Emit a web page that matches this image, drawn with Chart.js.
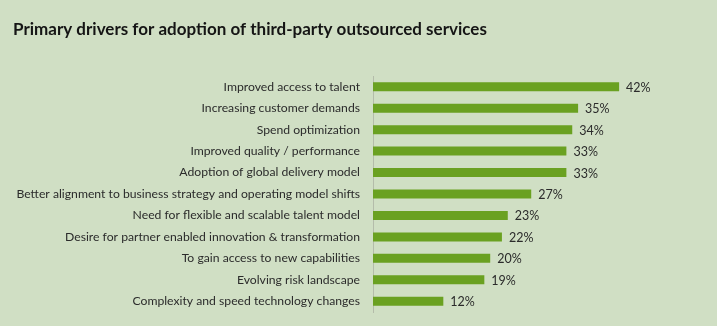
<!DOCTYPE html>
<html>
<head>
<meta charset="utf-8">
<script src="https://cdn.jsdelivr.net/npm/chart.js@4"></script>
<style>
  html, body { margin: 0; padding: 0; background: #d0dfc4; }
  #wrap { width: 717px; height: 326px; position: relative; }
</style>
</head>
<body>
<div id="wrap"><canvas id="driversChart"></canvas></div>
<script>
  // survey answers, top to bottom
  var DRIVERS = [
    "Improved access to talent",
    "Increasing customer demands",
    "Spend optimization",
    "Improved quality / performance",
    "Adoption of global delivery model",
    "Better alignment to business strategy and operating model shifts",
    "Need for flexible and scalable talent model",
    "Desire for partner enabled innovation & transformation",
    "To gain access to new capabilities",
    "Evolving risk landscape",
    "Complexity and speed technology changes"
  ];
  var SHARES = [42, 35, 34, 33, 33, 27, 23, 22, 20, 19, 12];

  var BAR_GREEN = "#6aa121";
  var TEXT_DARK = "#2b2b2b";

  // percent label at the end of each bar
  var barValueLabels = {
    id: "barValueLabels",
    afterDatasetsDraw: function (chart) {
      var ctx = chart.ctx;
      var meta = chart.getDatasetMeta(0);
      ctx.save();
      ctx.font = "12.5px Lato";
      ctx.fillStyle = TEXT_DARK;
      ctx.textAlign = "left";
      ctx.textBaseline = "middle";
      meta.data.forEach(function (bar, i) {
        ctx.fillText(SHARES[i] + "%", bar.x + 7, bar.y + 1);
      });
      ctx.restore();
    }
  };

  var ctx = document.getElementById("driversChart").getContext("2d");
  new Chart(ctx, {
    type: "bar",
    data: {
      labels: DRIVERS,
      datasets: [{
        data: SHARES,
        backgroundColor: BAR_GREEN,
        categoryPercentage: 1,
        barPercentage: 0.42
      }]
    },
    plugins: [barValueLabels],
    options: {
      indexAxis: "y",
      responsive: true,
      maintainAspectRatio: false,
      animation: false,
      layout: { padding: { top: 0, right: 51, bottom: 14, left: 13 } },
      plugins: {
        legend: { display: false },
        tooltip: { enabled: false },
        title: {
          display: true,
          text: "Primary drivers for adoption of third-party outsourced services",
          align: "start",
          color: "#151515",
          font: { family: "Lato", size: 17, weight: "bold", lineHeight: 1.2 },
          padding: { top: 19, bottom: 36.6 }
        }
      },
      scales: {
        x: {
          display: false,
          min: 0,
          max: 50
        },
        y: {
          afterFit: function (scale) {
            scale.width = 360;
            // labels sit inside their rows, no extra room above/below
            scale.paddingTop = 0;
            scale.paddingBottom = 0;
          },
          grid: { display: false, drawTicks: false },
          border: { display: true, color: "#b4bcaa", width: 1 },
          ticks: {
            color: TEXT_DARK,
            padding: 13,
            font: { family: "Lato", size: 12.2 }
          }
        }
      }
    }
  });
</script>
</body>
</html>
